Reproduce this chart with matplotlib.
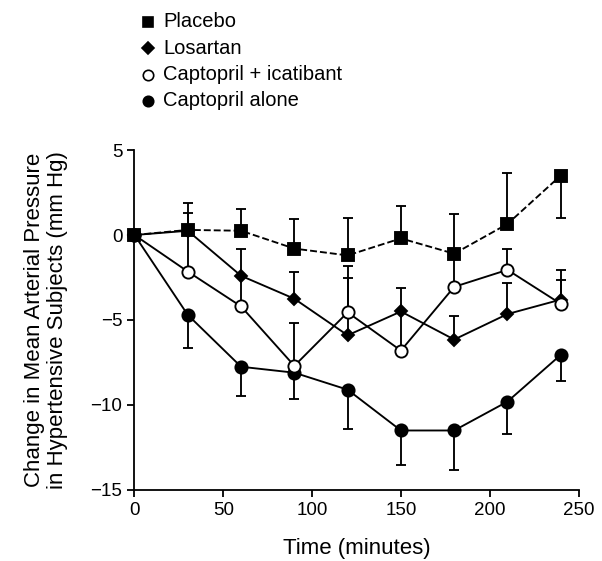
import numpy as np
import matplotlib.pyplot as plt
from matplotlib.lines import Line2D

plt.rcParams['font.family'] = ['Liberation Sans', 'DejaVu Sans']

times = [0, 30, 60, 90, 120, 150, 180, 210, 240]

placebo = [0, 0.3, 0.25, -0.8, -1.2, -0.2, -1.1, 0.65, 3.5]
placebo_err_up = [0, 1.6, 1.3, 1.75, 2.2, 1.9, 2.35, 3.0, 0]
placebo_err_dn = [0, 0, 0, 0, 0, 0, 0, 0, 2.5]

losartan = [0, 0.25, -2.4, -3.75, -5.9, -4.5, -6.15, -4.65, -3.8]
losartan_err = [0, 1.05, 1.55, 1.55, 4.1, 1.4, 1.4, 1.85, 1.75]

icatibant = [0, -2.15, -4.2, -7.7, -4.55, -6.8, -3.05, -2.05, -4.05]
icatibant_err = [0, 2.3, 1.8, 2.5, 2.0, 2.3, 1.9, 1.2, 1.4]

captopril = [0, -4.7, -7.75, -8.1, -9.1, -11.5, -11.5, -9.8, -7.05]
captopril_err = [0, 1.95, 1.7, 1.55, 2.3, 2.05, 2.3, 1.9, 1.55]

labels = ["Placebo", "Losartan", "Captopril + icatibant", "Captopril alone"]

fig = plt.figure(figsize=(6.02, 5.61), dpi=100)
ax = fig.add_axes([0.2234, 0.1266, 0.7376, 0.606])

zero = np.zeros(len(times))
common = dict(color='black', lw=1.35, elinewidth=1.35, capsize=3.6, capthick=1.35,
              markeredgecolor='black', markeredgewidth=1.35, clip_on=False)

ax.errorbar(times, captopril, yerr=[captopril_err, zero], fmt='-o', ms=8.8,
            markerfacecolor='black', zorder=3, **common)
ax.errorbar(times, losartan, yerr=[zero, losartan_err], fmt='-D', ms=6.6,
            markerfacecolor='black', zorder=4, **common)
ax.errorbar(times, icatibant, yerr=[zero, icatibant_err], fmt='-o', ms=8.8,
            markerfacecolor='white', zorder=5, **common)
ax.errorbar(times, placebo, yerr=[placebo_err_dn, placebo_err_up], fmt='--s', ms=9,
            markerfacecolor='black', zorder=6, **common)

ax.set_xlim(0, 250)
ax.set_ylim(-15, 5)
ax.set_xticks([0, 50, 100, 150, 200, 250])
ax.set_yticks([-15, -10, -5, 0, 5])
ax.spines['top'].set_visible(False)
ax.spines['right'].set_visible(False)
ax.spines['left'].set_linewidth(1.3)
ax.spines['bottom'].set_linewidth(1.3)
ax.tick_params(direction='out', length=5.2, width=1.3, labelsize=13.5, pad=3.5)
ax.set_xlabel("Time (minutes)", fontsize=16)
ax.set_ylabel("Change in Mean Arterial Pressure\nin Hypertensive Subjects (mm Hg)",
              fontsize=16, linespacing=1.1)
ax.xaxis.set_label_coords(0.5, -0.14)
ax.yaxis.set_label_coords(-0.15, 0.5)

# legend drawn as marker + text rows
markers = [
    dict(marker='s', ms=7.5, mfc='black'),
    dict(marker='D', ms=6, mfc='black'),
    dict(marker='o', ms=7.5, mfc='white'),
    dict(marker='o', ms=7.5, mfc='black'),
]
for i, (lab, mk) in enumerate(zip(labels, markers)):
    yy = 1 - (21.7 + 26.4 * i) / 561
    fig.add_artist(Line2D([148 / 602], [yy], transform=fig.transFigure, ls='none',
                          mec='black', mew=1.2, **mk))
    fig.text(163 / 602, yy, lab, fontsize=14.5, va='center', ha='left')

fig.savefig("out.png", dpi=100)
